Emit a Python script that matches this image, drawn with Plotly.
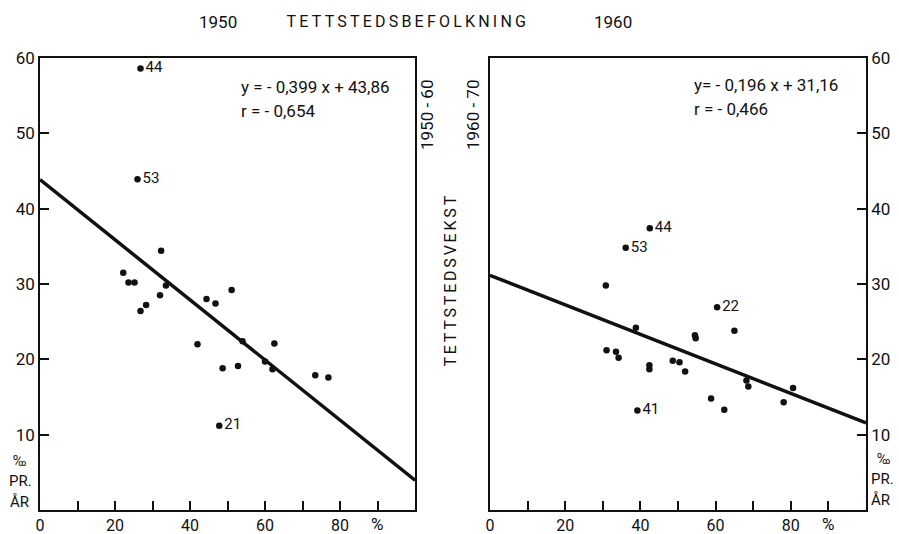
import plotly.graph_objects as go

W, H = 899, 534

# ---- data: left panel (1950 settlement pop. vs growth 1950-60) ----
left_x = [22.2, 23.6, 25.2, 26.8, 28.3, 32.3, 32.0, 33.6, 42.0, 44.4, 46.8, 51.1,
          48.7, 52.8, 54.0, 60.0, 62.0, 62.5, 73.4, 76.9, 47.8, 26.8, 26.0]
left_y = [31.5, 30.2, 30.2, 26.4, 27.2, 34.4, 28.5, 29.8, 22.0, 28.0, 27.4, 29.2,
          18.8, 19.1, 22.4, 19.7, 18.7, 22.1, 17.9, 17.6, 11.2, 58.6, 43.9]
left_lab = [""] * 20 + ["21", "44", "53"]
left_slope, left_icpt = -0.399, 43.86

# ---- data: right panel (1960 settlement pop. vs growth 1960-70) ----
right_x = [30.8, 60.4, 38.8, 65.0, 54.5, 54.7, 31.0, 33.5, 34.2, 42.4, 42.4, 48.6,
           50.4, 51.9, 68.2, 68.7, 58.8, 62.3, 78.1, 80.6, 39.2, 42.5, 36.1]
right_y = [29.8, 26.9, 24.2, 23.8, 23.2, 22.8, 21.2, 21.0, 20.2, 19.2, 18.7, 19.8,
           19.6, 18.4, 17.2, 16.4, 14.8, 13.3, 14.3, 16.2, 13.2, 37.4, 34.8]
right_lab = ["", "22"] + [""] * 18 + ["41", "44", "53"]
right_slope, right_icpt = -0.196, 31.16

x_ticks = [0, 10, 20, 30, 40, 50, 60, 70, 80, 90]
x_ticktext = ["0", "", "20", "", "40", "", "60", "", "80", ""]
y_ticks = [10, 20, 30, 40, 50, 60]
x_range = [0, 100]
y_range = [0, 60]

FONT = "Roboto, 'Liberation Sans', sans-serif"
INK = "#111111"

def px(x):
    return x / W

def py(y):
    return 1 - y / H

fig = go.Figure()

# left panel
fig.add_trace(go.Scatter(x=x_range, y=[left_icpt + left_slope * v for v in x_range],
                         mode="lines", line=dict(color=INK, width=3.5),
                         xaxis="x", yaxis="y", hoverinfo="skip"))
fig.add_trace(go.Scatter(x=left_x, y=left_y, mode="markers+text", text=left_lab,
                         textposition="middle right",
                         textfont=dict(family=FONT, size=15, color=INK),
                         marker=dict(color=INK, size=6.5),
                         xaxis="x", yaxis="y"))
# right panel
fig.add_trace(go.Scatter(x=x_range, y=[right_icpt + right_slope * v for v in x_range],
                         mode="lines", line=dict(color=INK, width=3.5),
                         xaxis="x2", yaxis="y2", hoverinfo="skip"))
fig.add_trace(go.Scatter(x=right_x, y=right_y, mode="markers+text", text=right_lab,
                         textposition="middle right",
                         textfont=dict(family=FONT, size=15, color=INK),
                         marker=dict(color=INK, size=6.5),
                         xaxis="x2", yaxis="y2"))

axis_common = dict(showline=True, mirror=True, linecolor=INK, linewidth=1.5,
                   ticks="inside", ticklen=9, tickwidth=1.5, tickcolor=INK,
                   showgrid=False, zeroline=False, automargin=False)
yfont = dict(family=FONT, size=17, color=INK)
xfont = dict(family=FONT, size=16, color=INK)

ydom = [py(510), py(58)]
fig.update_layout(
    width=W, height=H,
    margin=dict(l=0, r=0, t=0, b=0),
    paper_bgcolor="white", plot_bgcolor="white",
    showlegend=False,
    xaxis=dict(domain=[px(40), px(415)], range=x_range, tickvals=x_ticks,
               ticktext=x_ticktext, anchor="y", tickfont=xfont, **axis_common),
    yaxis=dict(domain=ydom, range=y_range, tickvals=y_ticks, anchor="x",
               side="left", tickfont=yfont, **axis_common),
    xaxis2=dict(domain=[px(490), px(866)], range=x_range, tickvals=x_ticks,
                ticktext=x_ticktext, anchor="y2", tickfont=xfont, **axis_common),
    yaxis2=dict(domain=ydom, range=y_range, tickvals=y_ticks, anchor="x2",
                side="right", tickfont=yfont, **axis_common),
)

def note(text, x, y, size=17, xanchor="center", angle=0):
    fig.add_annotation(text=text, x=px(x), y=py(y), xref="paper", yref="paper",
                       showarrow=False, xanchor=xanchor, yanchor="middle",
                       textangle=angle,
                       font=dict(family=FONT, size=size, color=INK))

# titles
note("1950", 218, 22)
note("TETTSTEDSBEFOLKNING", 408, 22, size=16)
note("1960", 613, 22)

# equations
note("y = - 0,399 x + 43,86", 239, 87, xanchor="left")
note("r = - 0,654", 239, 111, xanchor="left")
note("y= - 0,196 x + 31,16", 692, 85, xanchor="left")
note("r = - 0,466", 692, 109, xanchor="left")

# vertical labels
note("1950 - 60", 427, 115, angle=-90)
note("TETTSTEDSVEKST", 450, 280, size=16, angle=-90)
note("1960 - 70", 473, 115, angle=-90)

# units
note("%", 377, 524)
note("%", 828, 524)
note("‰", 19, 461, size=14)
note("PR.", 20, 481, size=15)
note("ÅR", 19, 502, size=15)
note("‰", 875, 459, size=14, xanchor="left")
note("PR.", 869, 479, size=15, xanchor="left")
note("ÅR", 869, 500, size=15, xanchor="left")

post = """
document.body.style.margin='0';
document.body.style.padding='0';
document.documentElement.style.overflow='hidden';
document.querySelectorAll('text.annotation-text').forEach(function(t){
  var s = t.textContent;
  if (s === 'TETTSTEDSBEFOLKNING') { t.style.letterSpacing = '3.2px'; }
  if (s === 'TETTSTEDSVEKST') { t.style.letterSpacing = '2.8px'; }
});
"""

fig.write_html("out.html", post_script=post, config={"displayModeBar": False})
